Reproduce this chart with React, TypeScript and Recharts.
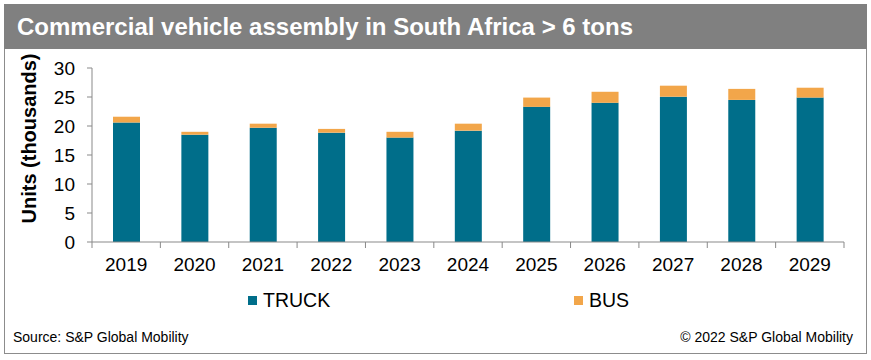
import React from 'react';
import { BarChart, Bar, XAxis, YAxis } from 'recharts';

const years = ['2019', '2020', '2021', '2022', '2023', '2024', '2025', '2026', '2027', '2028', '2029'];
const truck = [20.6, 18.5, 19.7, 18.85, 18.0, 19.2, 23.3, 24.0, 25.05, 24.5, 24.9];
const bus = [1.0, 0.5, 0.7, 0.65, 1.0, 1.2, 1.6, 1.9, 1.9, 1.9, 1.7];
const yTicks = [0, 5, 10, 15, 20, 25, 30];
const seriesNames = ['TRUCK', 'BUS'];
const seriesColors = ['#006E8A', '#F2A64A'];
const titleText = 'Commercial vehicle assembly in South Africa > 6 tons';
const yAxisTitle = 'Units (thousands)';
const sourceText = 'Source: S&P Global Mobility';
const copyrightText = '\u00A9 2022 S&P Global Mobility';

const data = years.map((y, i) => ({ year: y, truck: truck[i], bus: bus[i] }));

const FONT = '"Liberation Sans", Arial, sans-serif';
const AXIS_COLOR = '#898989';
const CHART_W = 871;
const CHART_H = 360;
const MARGIN = { top: 68, right: 27, bottom: 88, left: 0 };
const Y_AXIS_W = 92;
const PLOT_W = CHART_W - MARGIN.left - MARGIN.right - Y_AXIS_W;
const STEP = PLOT_W / years.length;

const XTick = (props: any) => {
  const { x, y, payload, index } = props;
  const axisY = y - 8;
  return (
    <g>
      <line x1={x - STEP / 2} x2={x - STEP / 2} y1={axisY} y2={axisY + 6} stroke={AXIS_COLOR} strokeWidth={1} />
      {index === years.length - 1 && (
        <line x1={x + STEP / 2} x2={x + STEP / 2} y1={axisY} y2={axisY + 6} stroke={AXIS_COLOR} strokeWidth={1} />
      )}
      <text x={x} y={y} dy={21} textAnchor="middle" fill="#000" fontSize={19} fontFamily={FONT}>
        {payload.value}
      </text>
    </g>
  );
};

const YTitle = () => (
  <text
    x={29}
    y={138.5}
    transform="rotate(-90 29 138.5)"
    textAnchor="middle"
    dominantBaseline="central"
    fontSize={20}
    fontWeight="bold"
    fontFamily={FONT}
    fill="#000"
  >
    {yAxisTitle}
  </text>
);

export default function App() {
  return (
    <div style={{ position: 'absolute', left: 0, top: 0, width: CHART_W, height: CHART_H, background: '#fff', fontFamily: FONT }}>
      <div style={{ position: 'absolute', left: 4, top: 4, width: 861, height: 348, border: '1px solid #8c8c8c', boxSizing: 'content-box' }} />
      <div style={{ position: 'absolute', left: 4, top: 4, width: 863, height: 45, background: '#808080' }} />
      <div style={{ position: 'absolute', left: 17, top: 12, color: '#fff', fontWeight: 'bold', fontSize: 24, lineHeight: '30px', whiteSpace: 'nowrap' }}>
        {titleText}
      </div>
      <div style={{ position: 'absolute', left: 0, top: 0 }}>
        <BarChart width={CHART_W} height={CHART_H} data={data} margin={MARGIN}>
          <XAxis
            dataKey="year"
            height={30}
            interval={0}
            tickLine={false}
            axisLine={{ stroke: AXIS_COLOR }}
            tick={<XTick />}
          />
          <YAxis
            width={Y_AXIS_W}
            domain={[0, 30]}
            ticks={yTicks}
            interval={0}
            tickSize={5}
            tickMargin={12}
            axisLine={{ stroke: AXIS_COLOR }}
            tickLine={{ stroke: AXIS_COLOR }}
            tick={{ fill: '#000', fontSize: 19, fontFamily: FONT }}
            label={<YTitle />}
          />
          <Bar dataKey="truck" name={seriesNames[0]} stackId="a" fill={seriesColors[0]} barSize={27} isAnimationActive={false} />
          <Bar dataKey="bus" name={seriesNames[1]} stackId="a" fill={seriesColors[1]} barSize={27} isAnimationActive={false} />
        </BarChart>
      </div>
      {[0, 1].map((i) => (
        <div key={i} style={{ position: 'absolute', left: i === 0 ? 248 : 574, top: 288, height: 24, display: 'flex', alignItems: 'center', whiteSpace: 'nowrap' }}>
          <span style={{ display: 'inline-block', width: 9, height: 9, background: seriesColors[i], marginRight: 6 }} />
          <span style={{ fontSize: 19.5, color: '#000', lineHeight: '24px' }}>{seriesNames[i]}</span>
        </div>
      ))}
      <div style={{ position: 'absolute', left: 13, top: 328, fontSize: 14, lineHeight: '18px', color: '#000', whiteSpace: 'nowrap' }}>{sourceText}</div>
      <div style={{ position: 'absolute', right: 871 - 853, top: 328, fontSize: 14, lineHeight: '18px', color: '#000', whiteSpace: 'nowrap', textAlign: 'right' }}>{copyrightText}</div>
    </div>
  );
}
